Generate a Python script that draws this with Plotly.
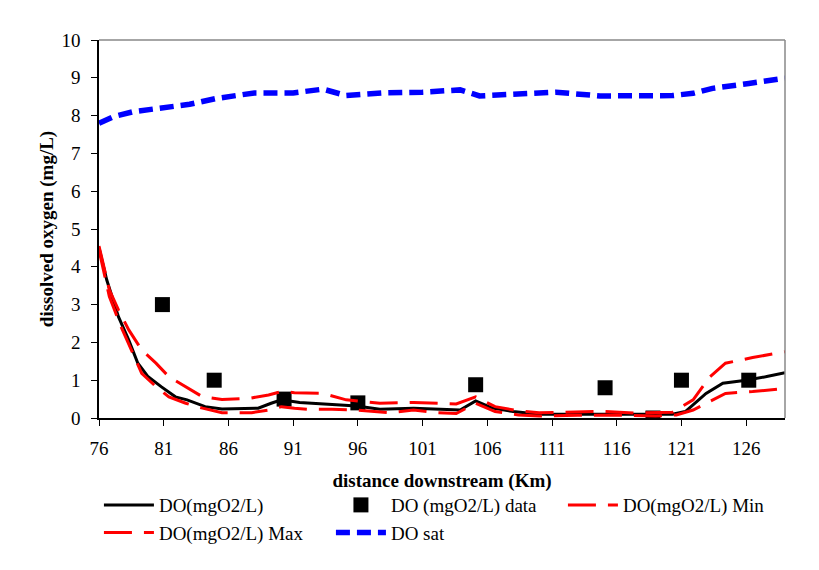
import plotly.graph_objects as go

# ---- data ----
do_x = [76, 76.6, 77.5, 78.3, 79.0, 79.8, 80.8, 81.9, 82.8, 84.2, 85.5, 88.3, 89.3, 90.1, 91.5,
        95.9, 97.7, 100.3, 103.9, 105.1, 106.4, 108.0, 110.0, 113.0, 116.2, 120.3, 121.3,
        122.9, 124.2, 126.0, 127.5, 129.0]
do_y = [4.5, 3.65, 2.68, 2.06, 1.45, 1.09, 0.83, 0.56, 0.48, 0.30, 0.24, 0.26, 0.39, 0.48, 0.41,
        0.32, 0.23, 0.26, 0.21, 0.45, 0.26, 0.17, 0.10, 0.10, 0.10, 0.10, 0.17,
        0.65, 0.92, 1.0, 1.09, 1.2]

data_x = [80.9, 84.9, 90.3, 96.0, 105.1, 115.1, 118.8, 121.0, 126.2]
data_y = [3.0, 1.0, 0.5, 0.4, 0.88, 0.8, 0.0, 1.0, 1.0]

min_x = [76, 76.8, 77.7, 78.6, 79.3, 80.4, 81.4, 82.7, 84.0, 85.5, 87.8, 89.1, 90.1, 91.1, 92.2,
         94.0, 95.9, 98.5, 100.3, 102.1, 103.6, 105.1, 106.6, 108.4, 110.0, 113, 116, 119,
         120.6, 121.9, 123.2, 124.4, 126.5, 129.0]
min_y = [4.44, 3.21, 2.42, 1.71, 1.18, 0.83, 0.56, 0.39, 0.26, 0.14, 0.14, 0.21, 0.30, 0.26, 0.23,
         0.23, 0.21, 0.14, 0.21, 0.14, 0.12, 0.39, 0.17, 0.08, 0.05, 0.07, 0.08, 0.05,
         0.08, 0.21, 0.43, 0.65, 0.70, 0.78]

max_x = [76, 76.8, 77.5, 78.3, 79.3, 80.4, 81.4, 82.7, 84.0, 85.5, 87.6, 89.1, 90.1, 91.1, 93.3,
         95.1, 97.7, 100.3, 103.6, 105.1, 106.6, 108.4, 110.0, 112, 114.7, 117.3, 120.3,
         121.9, 123.2, 124.4, 126.5, 129.0]
max_y = [4.55, 3.39, 2.86, 2.33, 1.8, 1.45, 1.09, 0.83, 0.56, 0.49, 0.52, 0.61, 0.70, 0.67, 0.65,
         0.48, 0.39, 0.41, 0.37, 0.56, 0.30, 0.19, 0.14, 0.15, 0.18, 0.13, 0.15,
         0.48, 1.09, 1.45, 1.6, 1.75]

sat_x = [76, 77.1, 78.6, 81, 83, 85, 88, 91, 92.5, 93.3, 95.1, 98, 101, 103.9, 105.4, 108,
         111.3, 114.7, 117, 120.3, 121.9, 123.4, 126.2, 129]
sat_y = [7.8, 7.97, 8.1, 8.22, 8.3, 8.45, 8.6, 8.6, 8.65, 8.7, 8.53, 8.6, 8.62, 8.68, 8.52, 8.55,
         8.62, 8.52, 8.53, 8.53, 8.59, 8.72, 8.85, 8.99]

x_ticks = [76, 81, 86, 91, 96, 101, 106, 111, 116, 121, 126]
y_ticks = [0, 1, 2, 3, 4, 5, 6, 7, 8, 9, 10]

FONT = "Liberation Serif, Times New Roman, serif"

fig = go.Figure()
fig.add_trace(go.Scatter(x=do_x, y=do_y, mode="lines", name="DO(mgO2/L)",
                         line=dict(color="black", width=3)))
fig.add_trace(go.Scatter(x=data_x, y=data_y, mode="markers", name="DO (mgO2/L) data",
                         marker=dict(symbol="square", color="black", size=15)))
fig.add_trace(go.Scatter(x=min_x, y=min_y, mode="lines", name="DO(mgO2/L) Min",
                         line=dict(color="#ff0000", width=3, dash="28px,12px")))
fig.add_trace(go.Scatter(x=max_x, y=max_y, mode="lines", name="DO(mgO2/L) Max",
                         line=dict(color="#ff0000", width=3, dash="28px,12px")))
fig.add_trace(go.Scatter(x=sat_x, y=sat_y, mode="lines", name="DO sat",
                         line=dict(color="#0000ff", width=5.5, dash="14px,7px")))

fig.update_layout(
    width=819, height=570,
    margin=dict(l=99, r=34, t=40, b=152, autoexpand=False),
    paper_bgcolor="white", plot_bgcolor="white",
    font=dict(family=FONT, size=19, color="black"),
    showlegend=True,
    legend=dict(orientation="h", x=-0.0001, xanchor="left", y=-0.18, yanchor="top",
                entrywidth=167, entrywidthmode="pixels", itemwidth=50,
                font=dict(family=FONT, size=19, color="black"),
                bgcolor="rgba(0,0,0,0)", tracegroupgap=0),
    shapes=[
        dict(type="line", xref="paper", yref="paper", x0=0, x1=1, y0=1, y1=1,
             line=dict(color="#888888", width=1.5)),
        dict(type="line", xref="paper", yref="paper", x0=1, x1=1, y0=0, y1=1,
             line=dict(color="#888888", width=1.5)),
    ],
)
fig.update_xaxes(range=[76, 129], tickvals=x_ticks, ticks="outside", ticklen=6,
                 tickcolor="black", showline=True, linecolor="black", linewidth=1.5,
                 showgrid=False, zeroline=False, ticklabelstandoff=6, automargin=False,
                 title=dict(text="<b>distance downstream (Km)</b>", standoff=16,
                            font=dict(family=FONT, size=19)))
fig.update_yaxes(range=[0, 10], tickvals=y_ticks, ticks="outside", ticklen=6,
                 tickcolor="black", showline=True, linecolor="black", linewidth=1.5,
                 showgrid=False, zeroline=False, ticklabelstandoff=7, automargin=False,
                 title=dict(text="<b>dissolved oxygen (mg/L)</b>", standoff=3,
                            font=dict(family=FONT, size=19)))

fig.write_html("out.html")
